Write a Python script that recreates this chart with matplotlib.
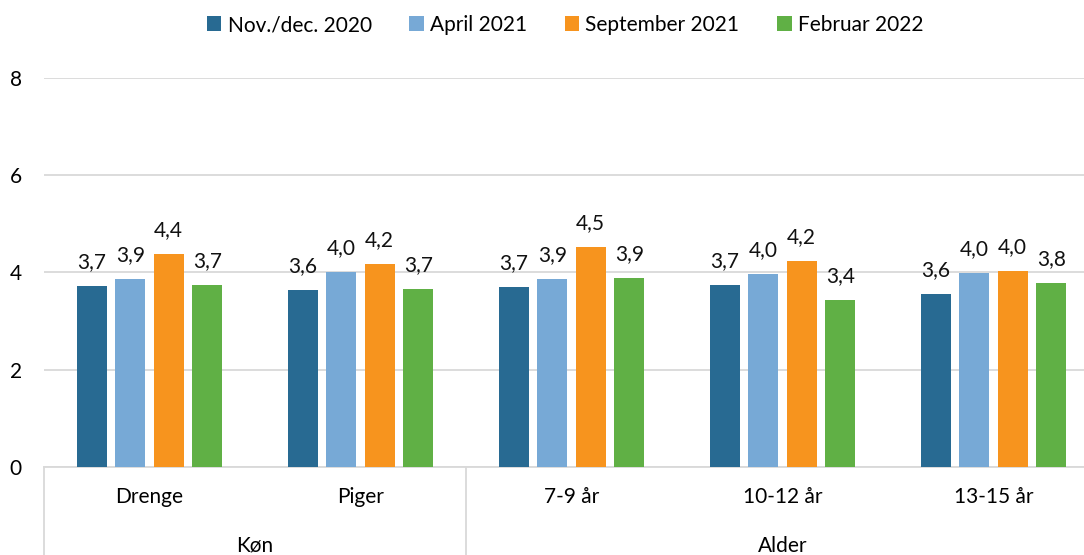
import matplotlib
matplotlib.use("Agg")
import matplotlib.pyplot as plt
import numpy as np

plt.rcParams['font.family'] = ['Lato', 'DejaVu Sans']

# data
grupper = ["Drenge", "Piger", "7-9 år", "10-12 år", "13-15 år"]
overgrupper = ["Køn", "Alder"]
serier = ["Nov./dec. 2020", "April 2021", "September 2021", "Februar 2022"]
nov_dec_2020 = [3.72, 3.63, 3.70, 3.74, 3.56]
april_2021 = [3.86, 4.01, 3.86, 3.96, 3.99]
september_2021 = [4.37, 4.17, 4.52, 4.24, 4.03]
februar_2022 = [3.74, 3.66, 3.88, 3.43, 3.78]
yticks = [0, 2, 4, 6, 8]

farver = ["#286a92", "#77a9d6", "#f7941e", "#60b045"]
vaerdier = [nov_dec_2020, april_2021, september_2021, februar_2022]

W, H = 1084, 555
fig = plt.figure(figsize=(W / 100, H / 100), dpi=100)
# plot area in pixels
left, right, y0, y8 = 44, 1099, 466.7, 77.9
ax = fig.add_axes([left / W, (H - y0) / H, (right - left) / W, (y0 - y8) / H])

x = np.arange(len(grupper))
bredde = 30 / 211
afstand = 38.5 / 211
for i, (navn, v, c) in enumerate(zip(serier, vaerdier, farver)):
    pos = x + (i - 1.5) * afstand
    ax.bar(pos, v, width=bredde, color=c, label=navn, zorder=3)
    for px_, val in zip(pos, v):
        ax.annotate(f"{val:.1f}".replace(".", ","), (px_, val), xytext=(0, 18),
                    textcoords="offset pixels", ha="center", va="baseline",
                    fontsize=15, color="#111111")

ax.set_xlim(-0.5, len(grupper) - 0.5)
ax.set_ylim(0, 8)
ax.set_yticks(yticks)
ax.tick_params(axis="y", length=0, pad=16, labelsize=15)
ax.set_xticks([])
ax.grid(axis="y", color="#d9d9d9", lw=1.3, zorder=0)
for s in ["left", "right", "top"]:
    ax.spines[s].set_visible(False)
ax.spines["bottom"].set_color("#d9d9d9")
ax.spines["bottom"].set_linewidth(1.3)

# category axis: two levels
ybund = -(H - y0) / (y0 - y8)
tr = ax.get_xaxis_transform()
for xv in [-0.5, 1.5]:
    ax.plot([xv, xv], [0, ybund], transform=tr, color="#d9d9d9", lw=1.3, clip_on=False)
for xi, navn in zip(x, grupper):
    ax.text(xi, -(497 - y0) / (y0 - y8), navn, transform=tr, ha="center", va="center", fontsize=15)
ax.text(0.5, -(546 - y0) / (y0 - y8), overgrupper[0], transform=tr, ha="center", va="center", fontsize=15)
ax.text(3, -(546 - y0) / (y0 - y8), overgrupper[1], transform=tr, ha="center", va="center", fontsize=15)

fig.legend(loc="center", bbox_to_anchor=(565 / W, 1 - 25 / H), ncol=4, frameon=False,
           fontsize=15, handlelength=0.7, handleheight=0.7, handletextpad=0.3,
           columnspacing=1.8)

fig.savefig("out.png", dpi=100)
